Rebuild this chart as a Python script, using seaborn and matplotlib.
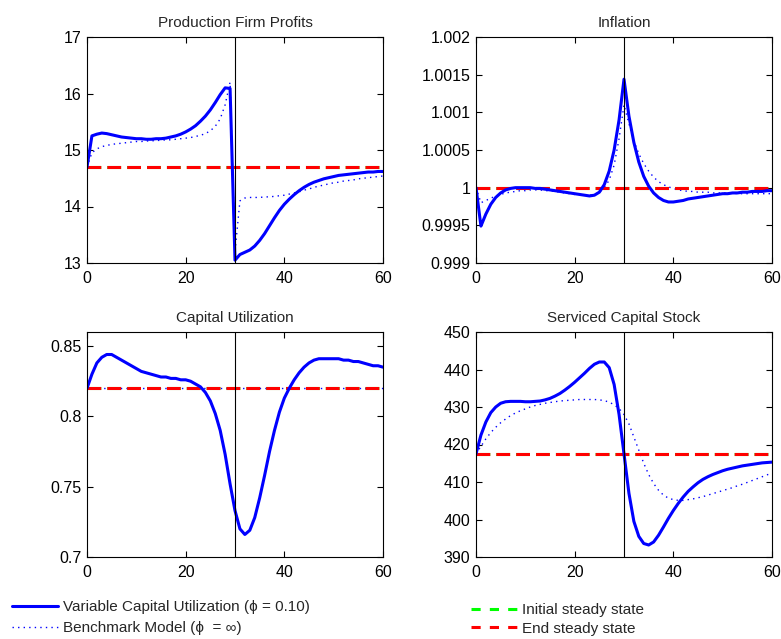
import numpy as np
import pandas as pd
import matplotlib
matplotlib.use("Agg")
import matplotlib.pyplot as plt
from matplotlib.lines import Line2D
from matplotlib.ticker import FuncFormatter, MultipleLocator
import seaborn as sns

# Quarters after the announcement
periods = list(range(61))
shock_period = 30

# Production firm profits
profits_vcu = [14.70, 15.25, 15.28, 15.30, 15.29, 15.27, 15.25, 15.23, 15.22, 15.21,
               15.20, 15.20, 15.19, 15.19, 15.20, 15.20, 15.21, 15.23, 15.25, 15.28,
               15.32, 15.37, 15.43, 15.51, 15.60, 15.71, 15.84, 15.98, 16.10, 16.09,
               13.05, 13.15, 13.19, 13.23, 13.30, 13.40, 13.52, 13.66, 13.80, 13.93,
               14.04, 14.13, 14.21, 14.28, 14.34, 14.39, 14.43, 14.46, 14.49, 14.51,
               14.53, 14.55, 14.56, 14.57, 14.58, 14.59, 14.60, 14.61, 14.61, 14.62,
               14.62]
profits_bench = [14.70, 14.95, 15.02, 15.06, 15.08, 15.10, 15.11, 15.12, 15.13, 15.14,
                 15.15, 15.15, 15.16, 15.16, 15.17, 15.17, 15.18, 15.18, 15.19, 15.20,
                 15.21, 15.22, 15.24, 15.26, 15.29, 15.34, 15.42, 15.55, 15.80, 16.20,
                 13.20, 14.10, 14.15, 14.16, 14.16, 14.16, 14.17, 14.17, 14.18, 14.19,
                 14.20, 14.22, 14.24, 14.26, 14.29, 14.31, 14.34, 14.36, 14.38, 14.40,
                 14.42, 14.43, 14.45, 14.46, 14.47, 14.49, 14.50, 14.51, 14.52, 14.53,
                 14.54]
profits_ss = 14.70

# Gross inflation
infl_vcu = [1.00000, 0.99949, 0.99965, 0.99978, 0.99987, 0.99993, 0.99997, 0.99999, 1.00000, 1.00000,
            1.00000, 1.00000, 0.99999, 0.99999, 0.99998, 0.99997, 0.99996, 0.99995, 0.99994, 0.99993,
            0.99992, 0.99991, 0.99990, 0.99989, 0.99990, 0.99994, 1.00004, 1.00022, 1.00050, 1.00090,
            1.00144, 1.00095, 1.00060, 1.00034, 1.00015, 1.00002, 0.99993, 0.99987, 0.99983, 0.99981,
            0.99981, 0.99982, 0.99983, 0.99985, 0.99986, 0.99987, 0.99988, 0.99989, 0.99990, 0.99991,
            0.99992, 0.99992, 0.99993, 0.99993, 0.99994, 0.99994, 0.99995, 0.99995, 0.99995, 0.99996,
            0.99996]
infl_bench = [1.00000, 0.99980, 0.99983, 0.99986, 0.99989, 0.99991, 0.99993, 0.99994, 0.99995, 0.99996,
              0.99996, 0.99997, 0.99997, 0.99997, 0.99996, 0.99996, 0.99995, 0.99994, 0.99993, 0.99992,
              0.99991, 0.99991, 0.99990, 0.99990, 0.99991, 0.99994, 1.00000, 1.00010, 1.00030, 1.00065,
              1.00110, 1.00085, 1.00062, 1.00045, 1.00032, 1.00022, 1.00014, 1.00008, 1.00004, 1.00001,
              0.99999, 0.99997, 0.99996, 0.99995, 0.99995, 0.99994, 0.99994, 0.99994, 0.99993, 0.99993,
              0.99993, 0.99993, 0.99993, 0.99992, 0.99992, 0.99992, 0.99992, 0.99992, 0.99992, 0.99992,
              0.99992]
infl_ss = 1.0

# Capital utilization
util_vcu = [0.820, 0.830, 0.838, 0.842, 0.844, 0.844, 0.842, 0.840, 0.838, 0.836,
            0.834, 0.832, 0.831, 0.830, 0.829, 0.828, 0.828, 0.827, 0.827, 0.826,
            0.826, 0.825, 0.823, 0.821, 0.817, 0.811, 0.802, 0.790, 0.773, 0.752,
            0.733, 0.720, 0.716, 0.719, 0.728, 0.742, 0.758, 0.775, 0.790, 0.803,
            0.813, 0.820, 0.826, 0.831, 0.835, 0.838, 0.840, 0.841, 0.841, 0.841,
            0.841, 0.841, 0.840, 0.840, 0.839, 0.839, 0.838, 0.837, 0.836, 0.836,
            0.835]
util_bench = [0.82] * 61
util_ss = 0.82

# Serviced capital stock
capital_vcu = [417.5, 422.5, 426.0, 428.5, 430.0, 431.0, 431.4, 431.5, 431.5, 431.5,
               431.4, 431.4, 431.5, 431.6, 431.9, 432.3, 432.9, 433.6, 434.5, 435.5,
               436.6, 437.8, 439.0, 440.3, 441.4, 442.0, 442.0, 440.5, 436.0, 428.0,
               417.5, 407.0, 399.5, 395.5, 393.6, 393.2, 394.0, 395.8, 398.0, 400.3,
               402.4, 404.3, 406.0, 407.5, 408.7, 409.8, 410.7, 411.4, 412.0, 412.5,
               413.0, 413.4, 413.7, 414.0, 414.3, 414.5, 414.7, 414.9, 415.1, 415.2,
               415.3]
capital_bench = [417.5, 419.5, 421.5, 423.2, 424.6, 425.8, 426.8, 427.7, 428.4, 429.0,
                 429.5, 430.0, 430.4, 430.7, 431.0, 431.2, 431.4, 431.6, 431.7, 431.8,
                 431.9, 432.0, 432.0, 432.0, 432.0, 431.9, 431.7, 431.3, 430.6, 429.6,
                 428.0, 425.5, 422.0, 418.5, 415.0, 412.0, 409.6, 407.8, 406.5, 405.7,
                 405.3, 405.1, 405.1, 405.3, 405.5, 405.8, 406.1, 406.5, 406.9, 407.3,
                 407.7, 408.1, 408.5, 409.0, 409.4, 409.9, 410.4, 410.9, 411.4, 411.9,
                 412.4]
capital_ss = 417.5

panels = [
    ("Production Firm Profits", profits_vcu, profits_bench, profits_ss, (13, 17), 1.0),
    ("Inflation", infl_vcu, infl_bench, infl_ss, (0.999, 1.002), 0.0005),
    ("Capital Utilization", util_vcu, util_bench, util_ss, (0.70, 0.86), 0.05),
    ("Serviced Capital Stock", capital_vcu, capital_bench, capital_ss, (390, 450), 10.0),
]

sns.set_style("ticks")
plt.rcParams["font.family"] = ["Liberation Sans", "DejaVu Sans"]
plt.rcParams["axes.linewidth"] = 0.8

BLUE = "#0000ff"
RED = "#ff0000"
GREEN = "#00ff00"
SS_DASH = (0, (4.5, 2.0))
BENCH_DOT = (0, (1, 3))

fig = plt.figure(figsize=(7.81, 6.39), dpi=100)
ax_rects = [
    (87 / 781, 1 - 263 / 639, 296 / 781, 226 / 639),
    (476 / 781, 1 - 263 / 639, 296 / 781, 226 / 639),
    (87 / 781, 1 - 557 / 639, 296 / 781, 225 / 639),
    (476 / 781, 1 - 557 / 639, 296 / 781, 225 / 639),
]

for rect, (title, vcu, bench, ss, ylim, ystep) in zip(ax_rects, panels):
    ax = fig.add_axes(rect)
    df = pd.DataFrame({"t": periods, "vcu": vcu, "bench": bench,
                       "ss": [ss] * len(periods)})
    sns.lineplot(data=df, x="t", y="ss", ax=ax, color=GREEN, linewidth=2.2,
                 linestyle=SS_DASH, errorbar=None)
    sns.lineplot(data=df, x="t", y="bench", ax=ax, color=BLUE, linewidth=1.0,
                 linestyle=BENCH_DOT, errorbar=None)
    sns.lineplot(data=df, x="t", y="ss", ax=ax, color=RED, linewidth=2.2,
                 linestyle=SS_DASH, errorbar=None)
    sns.lineplot(data=df, x="t", y="vcu", ax=ax, color=BLUE, linewidth=2.2,
                 errorbar=None)
    ax.axvline(shock_period, color="black", linewidth=0.8)

    ax.set_xlim(0, 60)
    ax.set_ylim(*ylim)
    ax.xaxis.set_major_locator(MultipleLocator(20))
    ax.yaxis.set_major_locator(MultipleLocator(ystep))
    ax.yaxis.set_major_formatter(FuncFormatter(lambda v, p: f"{v:.6g}"))
    ax.set_xlabel("")
    ax.set_ylabel("")
    ax.set_title(title, fontsize=11, pad=7)
    ax.tick_params(direction="in", top=True, right=True, length=4,
                   width=0.8, labelsize=11.5, colors="black")
    ax.tick_params(axis="x", pad=6)
    ax.tick_params(axis="y", pad=4)
    for sp in ax.spines.values():
        sp.set_visible(True)
        sp.set_color("black")

legend_font = {"family": ["Liberation Sans", "DejaVu Sans"], "size": 11}

left_handles = [
    Line2D([], [], color=BLUE, linewidth=2.2),
    Line2D([], [], color=BLUE, linewidth=1.0, linestyle=BENCH_DOT),
]
left_labels = ["Variable Capital Utilization (\u03d5 = 0.10)",
               "Benchmark Model (\u03d5  = \u221e)"]
right_handles = [
    Line2D([], [], color=GREEN, linewidth=2.2, linestyle=(0, (3, 3))),
    Line2D([], [], color=RED, linewidth=2.2, linestyle=(0, (3, 3))),
]
right_labels = ["Initial steady state", "End steady state"]

leg1 = fig.legend(left_handles, left_labels, loc="upper left",
                  bbox_to_anchor=(12 / 781, 1 - 600 / 639), frameon=False,
                  borderpad=0, borderaxespad=0, handlelength=3.0,
                  handletextpad=0.35, labelspacing=0.45, prop=legend_font)
leg2 = fig.legend(right_handles, right_labels, loc="upper left",
                  bbox_to_anchor=(471 / 781, 1 - 603 / 639), frameon=False,
                  borderpad=0, borderaxespad=0, handlelength=3.0,
                  handletextpad=0.35, labelspacing=0.3, prop=legend_font)

fig.savefig("out.png", dpi=100)
